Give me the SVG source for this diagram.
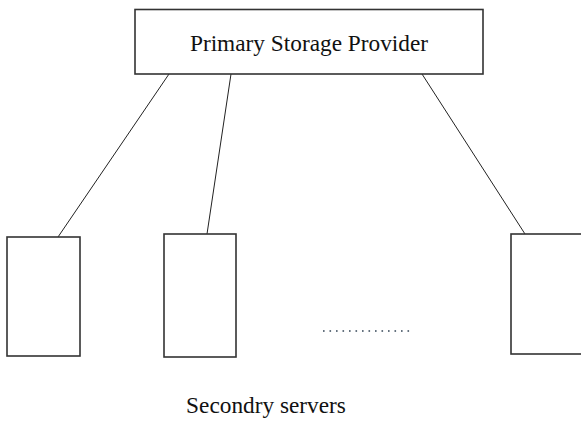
<svg xmlns="http://www.w3.org/2000/svg" width="581" height="425" viewBox="0 0 581 425">
  <style>
    .box { fill: #ffffff; stroke: #333333; stroke-width: 1.6; }
    .link { stroke: #222222; stroke-width: 1; fill: none; }
    .label { font-family: "Liberation Serif", "Times New Roman", serif; fill: #111111; }
  </style>
  <rect width="581" height="425" fill="#ffffff"/>
  <g id="connectors">
    <line class="link" x1="169" y1="74" x2="58" y2="237"/>
    <line class="link" x1="231" y1="74" x2="207" y2="234"/>
    <line class="link" x1="422" y1="74" x2="525" y2="234"/>
  </g>
  <g id="primary">
    <rect class="box" x="135" y="9.5" width="348" height="64.5"/>
    <text class="label" x="309" y="51" font-size="23.3" text-anchor="middle">Primary Storage Provider</text>
  </g>
  <g id="server1">
    <rect class="box" x="7" y="237" width="73" height="119"/>
  </g>
  <g id="server2">
    <rect class="box" x="164" y="234" width="72" height="123"/>
  </g>
  <g id="ellipsis">
    <line x1="323" y1="331" x2="414" y2="331" stroke="#334455" stroke-width="1.5" stroke-dasharray="1.6 4.9"/>
  </g>
  <g id="server3">
    <rect class="box" x="511" y="234" width="80" height="120"/>
  </g>
  <g id="caption">
    <text class="label" x="266" y="413" font-size="23.3" text-anchor="middle">Secondry servers</text>
  </g>
</svg>
